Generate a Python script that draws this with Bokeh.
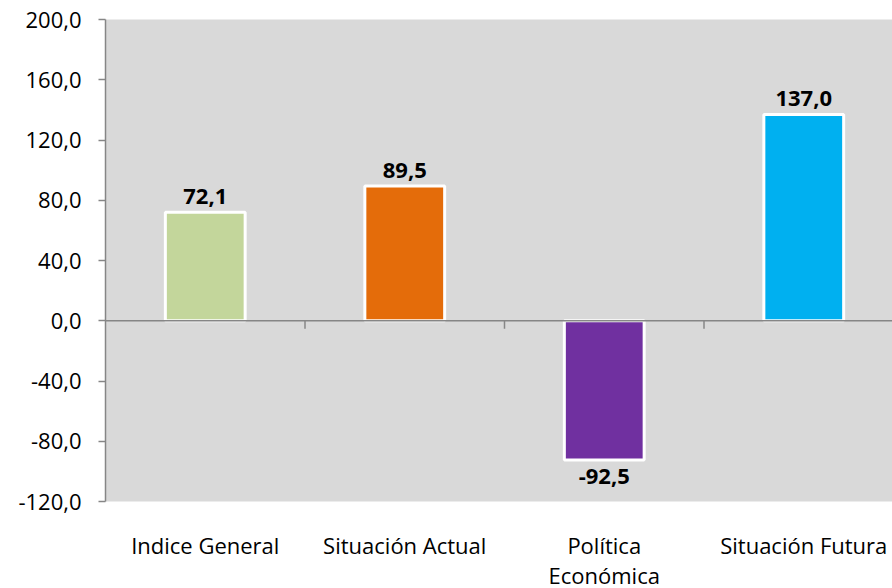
import numpy as np
from bokeh.plotting import figure
from bokeh.models import Range1d, FixedTicker, Span, ColumnDataSource
from bokeh.core.properties import value
from bokeh.embed import file_html
from bokeh.resources import INLINE

categories = ["Indice General", "Situación Actual", "Política\nEconómica", "Situación Futura"]
values = [72.1, 89.5, -92.5, 137.0]
colors = ["#C3D69B", "#E46C0A", "#7030A0", "#00B0F0"]
y_ticks = [-120, -80, -40, 0, 40, 80, 120, 160, 200]

FONT = "Open Sans"
GRAY = "#868686"
ymin, ymax = -120, 200
frame_w, frame_h = 787, 482
cat_w = 199.5

n = len(categories)
xc = np.arange(n) + 0.5
labels = [f"{v:.1f}".replace(".", ",") for v in values]

p = figure(frame_width=frame_w, frame_height=frame_h,
           x_range=Range1d(0, frame_w / cat_w), y_range=Range1d(ymin, ymax),
           output_backend="svg", toolbar_location=None,
           min_border_left=105, min_border_right=0, min_border_top=19, min_border_bottom=87)
p.background_fill_color = "#D9D9D9"
p.border_fill_color = "white"
p.outline_line_color = None
p.grid.visible = False

src = ColumnDataSource(dict(x=xc, top=values, color=colors))
p.vbar(x="x", top="top", bottom=0, width=0.4, fill_color="color", line_color="white",
       line_width=3, source=src)

p.add_layout(Span(location=0, dimension="width", line_color=GRAY, line_width=1.5))
tick_len = 8 * (ymax - ymin) / frame_h
bx = np.arange(1, n)
p.segment(x0=bx, x1=bx, y0=np.zeros(len(bx)), y1=np.full(len(bx), -tick_len),
          line_color=GRAY, line_width=1.5)

pos_src = ColumnDataSource(dict(x=[x for x, v in zip(xc, values) if v >= 0],
                                y=[v for v in values if v >= 0],
                                t=[l for l, v in zip(labels, values) if v >= 0]))
neg_src = ColumnDataSource(dict(x=[x for x, v in zip(xc, values) if v < 0],
                                y=[v for v in values if v < 0],
                                t=[l for l, v in zip(labels, values) if v < 0]))
p.text(x="x", y="y", text="t", source=pos_src, text_align="center", text_baseline="bottom",
       y_offset=-8, text_font=value(FONT), text_font_size="22px", text_font_style="bold",
       text_color="black")
p.text(x="x", y="y", text="t", source=neg_src, text_align="center", text_baseline="top",
       y_offset=9, text_font=value(FONT), text_font_size="22px", text_font_style="bold",
       text_color="black")

# y axis
ya = p.yaxis[0]
ya.ticker = FixedTicker(ticks=y_ticks)
ya.major_label_overrides = {t: f"{t:.1f}".replace(".", ",") for t in y_ticks}
ya.axis_line_color = GRAY
ya.axis_line_width = 1.5
ya.major_tick_line_color = GRAY
ya.major_tick_line_width = 1.5
ya.major_tick_out = 7
ya.major_tick_in = 0
ya.minor_tick_line_color = None
ya.major_label_standoff = 17
ya.major_label_text_font = FONT
ya.major_label_text_font_size = "22px"
ya.major_label_text_color = "black"

# x axis (category labels)
xa = p.xaxis[0]
xa.ticker = FixedTicker(ticks=list(xc))
xa.major_label_overrides = {float(x): c for x, c in zip(xc, categories)}
xa.axis_line_color = None
xa.major_tick_line_color = None
xa.minor_tick_line_color = None
xa.major_label_standoff = 22
xa.major_label_text_font = FONT
xa.major_label_text_font_size = "22px"
xa.major_label_text_line_height = 1.0
xa.major_label_text_color = "black"

open("out.html", "w").write(file_html(p, INLINE))
